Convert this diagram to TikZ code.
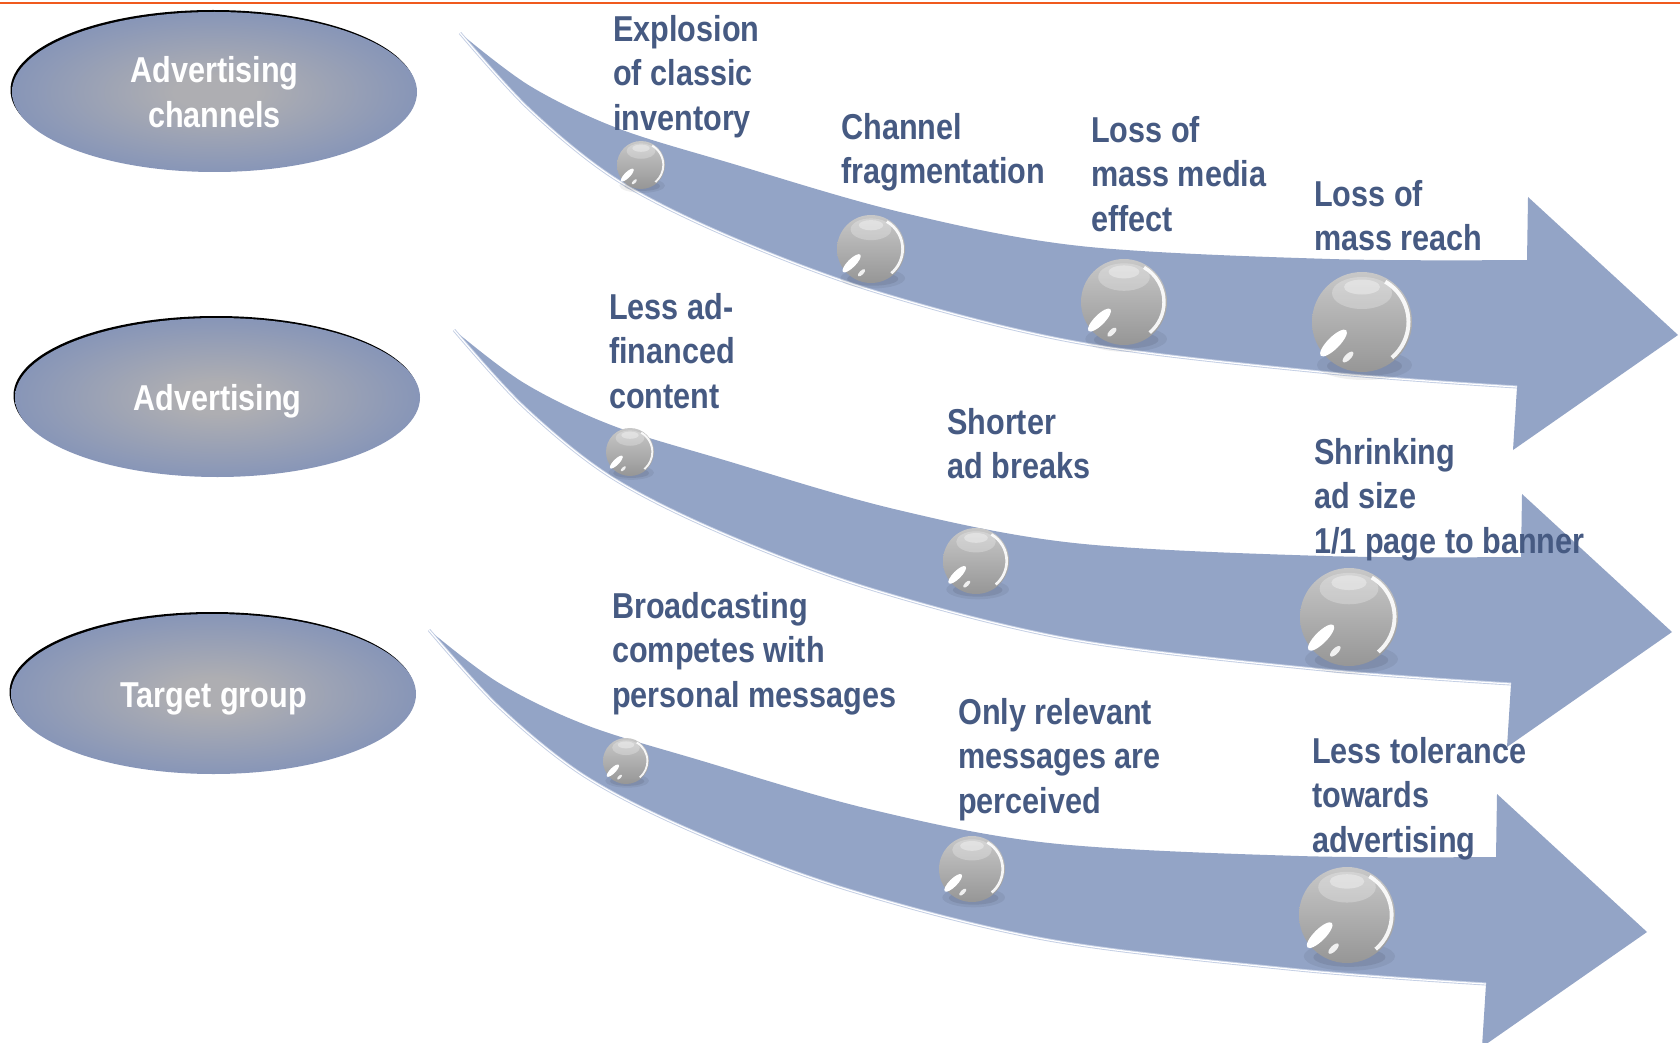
\documentclass[tikz,border=0pt]{standalone}
\usepackage{fontspec}
\newfontfamily\lbl{Liberation Sans}[FakeStretch=0.85]
\usetikzlibrary{shapes.geometric}
\definecolor{band}{RGB}{147,164,198}
\definecolor{bandedge}{RGB}{195,206,228}
\definecolor{txt}{RGB}{70,90,130}
\definecolor{orng}{RGB}{240,90,30}
\definecolor{elc}{RGB}{174,174,178}
\definecolor{elb}{RGB}{120,140,186}
\definecolor{ballhi}{RGB}{200,200,200}
\definecolor{balllo}{RGB}{150,150,150}
\pgfdeclareradialshading{ellgrad}{\pgfpoint{0bp}{0bp}}{color(0bp)=(elc); color(5bp)=(elc); color(33bp)=(elb); color(50bp)=(elb)}
\newcommand\labfont{\lbl\bfseries\fontsize{36}{44.5}\selectfont}
\newcommand\ballat[3]{%
  \begin{scope}[shift={(#1,#2)}, scale=#3]
    \fill[black, opacity=0.06] (0.05,0.86) ellipse (0.95 and 0.3);
    \fill[black, opacity=0.08] (0.05,0.88) ellipse (0.75 and 0.2);
    \shade[top color=ballhi, bottom color=balllo] (0,0) circle (1);
    \fill[white, opacity=0.25] (0,-0.58) ellipse (0.6 and 0.32);
    \fill[white, opacity=0.35] (0,-0.7) ellipse (0.36 and 0.15);
    \fill[white, rotate around={45:(-0.57,0.42)}] (-0.57,0.42) ellipse (0.36 and 0.12);
    \fill[white, opacity=0.85, rotate around={45:(-0.28,0.7)}] (-0.28,0.7) ellipse (0.14 and 0.06);
    \draw[white, opacity=0.9, line width=#3*0.08pt] (-60:0.93) arc[start angle=-60, end angle=50, radius=0.93];
  \end{scope}}
\newcommand\bandarrow[2]{%
  \begin{scope}[shift={(#1,#2)}]
    \fill[band] plot[smooth, tension=0.55] coordinates {(460,33) (530,86) (617,128) (730,163) (900,212) (1080,246) (1330,259) (1527,260)}
      -- (1528,197) -- (1678,335) -- (1513,450) -- (1517,387)
      -- plot[smooth, tension=0.55] coordinates {(1517,387) (1330,373) (1080,343) (880,293) (730,237) (617,180) (530,110) (460,33)} -- cycle;
    \draw[bandedge, line width=3] plot[smooth, tension=0.55] coordinates {(1517,387) (1330,373) (1080,343) (880,293) (730,237) (617,180) (530,110) (460,33)};
    \draw[white, line width=1.2] plot[smooth, tension=0.55] coordinates {(1517,387) (1330,373) (1080,343) (880,293) (730,237) (617,180) (530,110) (460,33)};
  \end{scope}}
\begin{document}
\begin{tikzpicture}[x=1pt, y=-1pt,
  lab/.style={anchor=north west, inner sep=0pt, align=left, text=txt, font=\labfont},
  oval/.style={ellipse, minimum width=405pt, minimum height=160pt, inner sep=0pt, shade, shading=ellgrad},
  ovaltext/.style={text=white, align=center, font=\labfont, inner sep=0pt}]
\useasboundingbox (0,0) rectangle (1680,1043);
\fill[white] (0,0) rectangle (1680,1043);
\draw[orng, line width=2.5] (0,3) -- (1680,3);

% ovals
\fill[black] (213,90) ellipse (202.5 and 80);
\node[oval] (e1) at (214.5,92) {};
\node[ovaltext] (e1t) at (e1.center) {Advertising\\channels};
\fill[black] (216,395.5) ellipse (202.5 and 79.5);
\node[oval, minimum height=159pt] (e2) at (217.5,397.5) {};
\node[ovaltext, anchor=base] (e2t) at (217.5,410) {Advertising};
\fill[black] (212,692) ellipse (202.5 and 80);
\node[oval] (e3) at (213.5,694) {};
\node[ovaltext, anchor=base] (e3t) at (213.5,707) {Target group};

% arrows
\bandarrow{0}{0}
\bandarrow{-6}{297}
\bandarrow{-31}{597}

% spheres
\ballat{641}{165}{24}
\ballat{871}{249}{34}
\ballat{1124}{302}{43}
\ballat{1362}{322}{50}
\ballat{630}{452}{24}
\ballat{976}{561}{33}
\ballat{1349}{617}{49}
\ballat{626}{761}{23}
\ballat{972}{869}{33}
\ballat{1347}{915}{48}

% labels
\node[lab] (t1) at (613,15) {Explosion\\of classic\\inventory};
\node[lab] (t2) at (841,113) {Channel\\fragmentation};
\node[lab] (t3) at (1091,116) {Loss of\\mass media\\effect};
\node[lab] (t4) at (1314,180) {Loss of\\mass reach};
\node[lab] (t5) at (609,293) {Less ad-\\financed\\content};
\node[lab] (t6) at (947,408) {Shorter\\ad breaks};
\node[lab] (t7) at (1314,438) {Shrinking\\ad size\\1/1 page to banner};
\node[lab] (t8) at (612,592) {Broadcasting\\competes with\\personal messages};
\node[lab] (t9) at (958,698) {Only relevant\\messages are\\perceived};
\node[lab] (t10) at (1312,737) {Less tolerance\\towards\\advertising};
\end{tikzpicture}
\end{document}
